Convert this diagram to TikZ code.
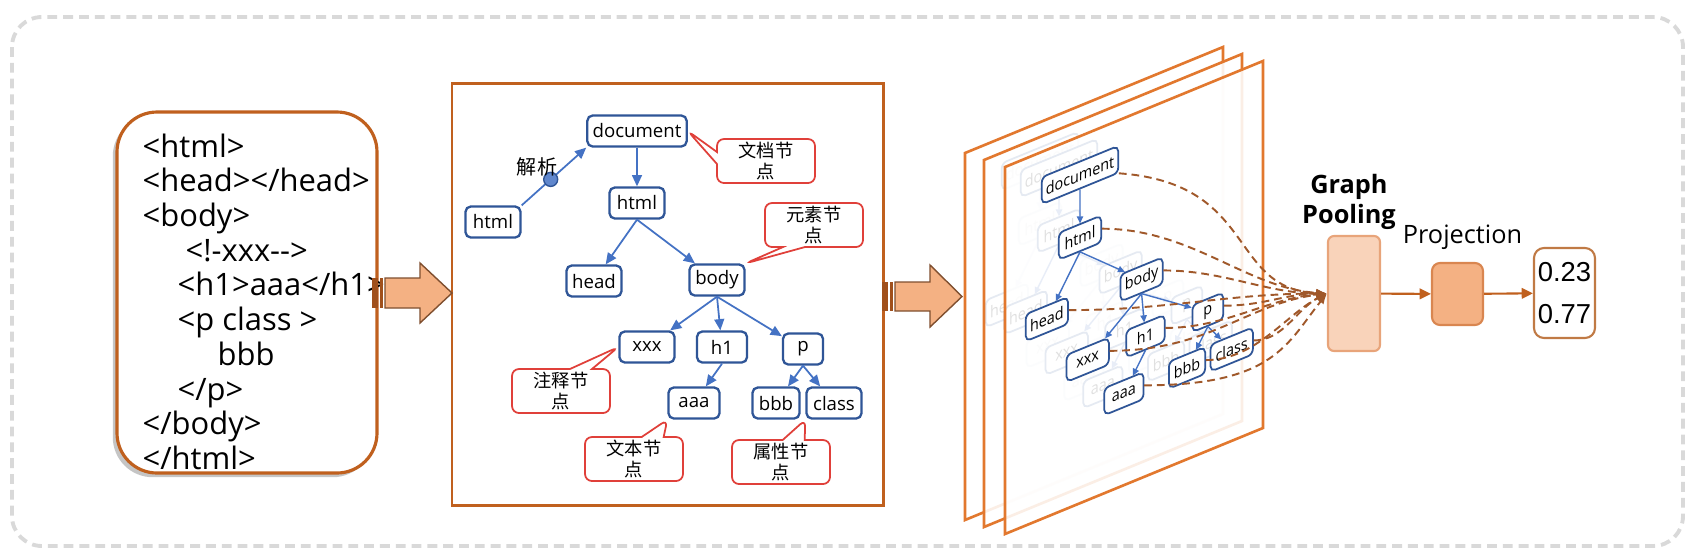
\documentclass[tikz,border=0pt]{standalone}
\usepackage{fontspec}
\setmainfont{Open Sans}
\newfontfamily\cjk{Noto Sans CJK SC}
\newfontfamily\numfont{Liberation Sans}
\usepackage{tikz}
\usetikzlibrary{arrows.meta,positioning,shapes.callouts,shadows}

\definecolor{boxorange}{HTML}{C0601E}
\definecolor{planeorange}{HTML}{E2782E}
\definecolor{treeblue}{HTML}{2F5597}
\definecolor{edgeblue}{HTML}{4472C4}
\definecolor{notered}{HTML}{E0403A}
\definecolor{arrowfill}{HTML}{F4B183}
\definecolor{arrowline}{HTML}{7F4F2F}
\definecolor{stripe}{HTML}{A0501C}
\definecolor{flowbrown}{HTML}{A0582A}
\definecolor{poolfill}{HTML}{F9D3BA}
\definecolor{poolline}{HTML}{E8A47A}
\definecolor{projline}{HTML}{D98650}
\definecolor{outline}{HTML}{C07A45}
\definecolor{framegray}{HTML}{D9D9D9}

\tikzset{
  frame/.style={draw=framegray, line width=1.1pt, dash pattern=on 2.8pt off 1.7pt, rounded corners=0.3cm},
  codebox/.style={draw=boxorange, fill=white, line width=0.9pt, rounded corners=0.4cm,
    minimum width=2.60cm, minimum height=3.61cm,
    drop shadow={shadow xshift=-1.2pt, shadow yshift=-1.2pt, fill=black!45, opacity=0.5}},
  codetxt/.style={anchor=north west, inner sep=0pt, align=left, font=\fontsize{8.8}{9.87}\selectfont},
  panel/.style={draw=boxorange, fill=white, line width=0.85pt},
  tnode/.style={draw=treeblue, fill=white, line width=0.65pt, rounded corners=1.5pt,
    inner xsep=1.5pt, inner ysep=0pt, minimum height=0.31cm, minimum width=0.55cm,
    font=\fontsize{5.3}{6}\selectfont},
  tedge/.style={draw=edgeblue, line width=0.5pt, -{Triangle[length=3.2pt,width=2.8pt]}},
  pdot/.style={circle, fill=edgeblue!85, draw=treeblue, line width=0.4pt, minimum size=0.14cm, inner sep=0pt},
  cnlbl/.style={font=\cjk\fontsize{5.7}{6.5}\selectfont, inner sep=0pt},
  note/.style={rectangle callout, draw=notered, fill=white, line width=0.5pt, rounded corners=2pt,
    minimum width=0.98cm, minimum height=0.44cm, inner sep=0pt, align=center,
    callout pointer width=0.22cm, font=\cjk\fontsize{5.2}{6}\selectfont},
  bigarrow/.style={fill=arrowfill, draw=arrowline, line width=0.4pt},
  plane/.style={draw=planeorange, line width=0.75pt, fill=white, fill opacity=0.88},
  gflow/.style={draw=flowbrown, line width=0.55pt, dash pattern=on 2.2pt off 1.4pt, -{Latex[length=3pt,width=2.4pt]}},
  ttl/.style={font=\fontsize{7.2}{8.5}\selectfont, inner sep=0pt, align=center},
  pool/.style={fill=poolfill, draw=poolline, line width=0.6pt, rounded corners=0.06cm, minimum width=0.52cm, minimum height=1.15cm},
  proj/.style={fill=arrowfill, draw=projline, line width=0.6pt, rounded corners=0.08cm, minimum width=0.51cm, minimum height=0.62cm},
  outbox/.style={fill=white, draw=outline, line width=0.6pt, rounded corners=0.1cm, minimum width=0.61cm, minimum height=0.90cm,
    align=center, inner sep=0pt, font=\numfont\fontsize{7.8}{11.9}\selectfont},
  parrow/.style={draw=boxorange, line width=0.6pt, -{Triangle[length=3.2pt,width=3pt]}}
}

% DOM tree, document node at the origin
\newcommand{\domtree}{%
  \node[tnode] (document) at (0,0) {document};
  \node[tnode] (html) at (0,0.72) {html};
  \node[tnode] (head) at (-0.43,1.50) {head};
  \node[tnode] (body) at (0.80,1.49) {body};
  \node[tnode] (xxx) at (0.10,2.16) {xxx};
  \node[tnode,minimum width=0.50cm] (h1) at (0.85,2.16) {h1};
  \node[tnode,minimum width=0.40cm] (p) at (1.66,2.18) {p};
  \node[tnode,minimum width=0.51cm] (aaa) at (0.57,2.72) {aaa};
  \node[tnode,minimum width=0.47cm] (bbb) at (1.39,2.72) {bbb};
  \node[tnode] (class) at (1.97,2.72) {class};
  \draw[tedge] (document) -- (html);
  \draw[tedge] (html.south) -- (head);
  \draw[tedge] (html.south) -- (body);
  \draw[tedge] (body.south) -- (xxx);
  \draw[tedge] (body.south) -- (h1);
  \draw[tedge] (body.south) -- (p);
  \draw[tedge] (h1.south) -- (aaa);
  \draw[tedge] (p.south) -- (bbb);
  \draw[tedge] (p.south) -- (class);
}

\begin{document}
\begin{tikzpicture}[y=-1cm]
\useasboundingbox (0,0) rectangle (16.94,5.59);
\draw[frame] (0.12,0.17) rectangle (16.83,5.46);

% html source
\node[codebox] (code) at (2.47,2.925) {};
\node[codetxt] (codetext) at (1.42,1.33) {<html>\\<head></head>\\<body>\\
  \hspace*{0.43cm}<!-xxx-\kern0pt->\\\hspace*{0.35cm}<h1>aaa</h1>\\
  \hspace*{0.35cm}<p class >\\\hspace*{0.75cm}bbb\\\hspace*{0.35cm}</p>\\</body>\\</html>};

% parse tree
\draw[panel] (4.52,0.83) rectangle (8.83,5.05);
\begin{scope}[shift={(6.37,1.31)}, name prefix=t-]
  \domtree
\end{scope}
\node[tnode] (src) at (4.93,2.22) {html};
\draw[tedge] (src.north east) -- (t-document.south west) node[pdot, pos=0.45] (parse) {};
\node[cnlbl] (parselbl) at (5.37,1.67) {解析};

\node[note, callout absolute pointer={(t-document.east)}, callout pointer width=0.12cm] (cdoc) at (7.66,1.61) {文档节\\点};
\node[note, callout absolute pointer={(t-body.north east)}] (celem) at (8.14,2.25) {元素节\\点};
\node[note, callout absolute pointer={(t-xxx.west)}] (ccomm) at (5.61,3.91) {注释节\\点};
\node[note, callout absolute pointer={(t-aaa.south west)}] (ctext) at (6.34,4.59) {文本节\\点};
\node[note, callout absolute pointer={(t-class.south west)}] (cattr) at (7.81,4.62) {属性节\\点};

% big arrows
\fill[stripe] (3.72,2.78) rectangle (3.78,3.08);
\fill[stripe] (3.80,2.78) rectangle (3.83,3.08);
\filldraw[bigarrow] (3.85,2.78) -- (4.20,2.78) -- (4.20,2.63) -- (4.52,2.93) -- (4.20,3.23) -- (4.20,3.08) -- (3.85,3.08) -- cycle;
\fill[stripe] (8.82,2.82) rectangle (8.88,3.11);
\fill[stripe] (8.90,2.82) rectangle (8.93,3.11);
\filldraw[bigarrow] (8.95,2.82) -- (9.30,2.82) -- (9.30,2.65) -- (9.62,2.965) -- (9.30,3.27) -- (9.30,3.11) -- (8.95,3.11) -- cycle;

% stacked graph planes
\foreach \k/\dx/\dy in {1/-0.40/-0.14, 2/-0.21/-0.07, 3/0/0}{
  \begin{scope}[shift={(\dx,\dy)}]
    \filldraw[plane] (10.05,1.67) -- (12.63,0.61) -- (12.63,4.28) -- (10.05,5.34) -- cycle;
    \begin{scope}[shift={(10.80,1.75)}, yslant=0.41, xscale=0.77, yscale=0.87, transform shape, name prefix=p\k-,
        tnode/.append style={line width=0.5pt},
        tedge/.style={draw=edgeblue, line width=0.4pt, -{Triangle[length=2pt,width=1.8pt]}}]
      \domtree
    \end{scope}
  \end{scope}
}

% pooling head
\node[pool] (pool) at (13.54,2.935) {};
\node[proj] (proj) at (14.575,2.94) {};
\node[outbox] (out) at (15.645,2.93) {0.23\\0.77};
\node[ttl, font=\bfseries\fontsize{7.2}{8.5}\selectfont, above=0.05cm of pool, xshift=-0.05cm] (pooltitle) {Graph\\Pooling};
\node[ttl, above=0.12cm of proj, xshift=0.05cm] (projtitle) {Projection};
\draw[parrow] (pool) -- (proj);
\draw[parrow] (proj) -- (out);

% node embeddings into pooling
\draw[gflow] (p3-document.south east) .. controls +(1.4,0.1) and +(-1.0,-0.04) .. (pool.west);
\draw[gflow] (p3-html.east) .. controls +(0.9,0) and +(-0.8,-0.05) .. (pool.west);
\draw[gflow] (p3-body.east) .. controls +(0.6,0) and +(-0.6,0) .. (pool.west);
\draw[gflow] (p3-head.east) .. controls +(1.0,0) and +(-1.0,0) .. (pool.west);
\draw[gflow] (p3-p.east) .. controls +(0.4,0) and +(-0.4,0) .. (pool.west);
\draw[gflow] (p3-h1.east) .. controls +(0.6,0) and +(-0.6,0.05) .. (pool.west);
\draw[gflow] (p3-xxx.east) .. controls +(1.0,0) and +(-0.8,0.1) .. (pool.west);
\draw[gflow] (p3-bbb.east) .. controls +(0.5,0) and +(-0.4,0.2) .. (pool.west);
\draw[gflow] (p3-class.east) .. controls +(0.3,0) and +(-0.3,0.15) .. (pool.west);
\draw[gflow] (p3-aaa.east) .. controls +(1.3,0) and +(-0.4,0.5) .. (pool.west);
\end{tikzpicture}
\end{document}
